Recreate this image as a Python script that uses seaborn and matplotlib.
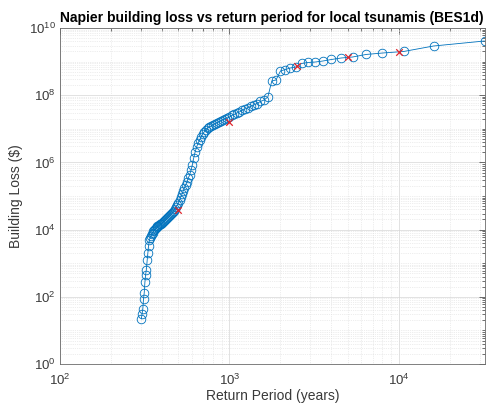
import matplotlib
matplotlib.use("Agg")
import matplotlib.pyplot as plt
from matplotlib.ticker import FixedLocator, LogFormatterSciNotation, NullFormatter
import pandas as pd
import seaborn as sns

# Return period (years) for each ranked loss event
return_period = [
    32000, 16000, 10667, 8000, 6400, 5333, 4571, 4000, 3556, 3200,
    2909, 2667, 2462, 2286, 2133, 2000, 1882, 1778, 1684, 1600,
    1524, 1455, 1391, 1333, 1280, 1231, 1185, 1143, 1103, 1067,
    1032, 1000, 970, 941, 914, 889, 865, 842, 821, 800,
    780, 762, 744, 727, 711, 696, 681, 667, 653, 640,
    627, 615, 604, 593, 582, 571, 561, 552, 542, 533,
    525, 516, 508, 500, 492, 485, 478, 471, 464, 457,
    451, 444, 438, 432, 427, 421, 416, 410, 405, 400,
    395, 390, 386, 381, 376, 372, 368, 364, 360, 356,
    352, 348, 344, 340, 337, 333, 330, 327, 323, 320,
    317, 314, 311, 308, 305, 302,
]

# Building loss ($) for each event
building_loss = [
    4.10e9, 2.91e9, 2.00e9, 1.80e9, 1.63e9, 1.37e9, 1.28e9, 1.155e9, 1.04e9, 9.7e8,
    9.4e8, 8.8e8, 6.9e8, 6.45e8, 5.8e8, 5.25e8, 2.83e8, 2.65e8, 8.8e7, 7.2e7,
    6.5e7, 5.66e7, 5.11e7, 4.61e7, 4.16e7, 3.88e7, 3.51e7, 3.16e7, 2.95e7, 2.67e7,
    2.49e7, 2.24e7, 2.09e7, 1.96e7, 1.83e7, 1.71e7, 1.59e7, 1.49e7, 1.39e7, 1.30e7,
    1.21e7, 1.13e7, 1.06e7, 9.5e6, 8.3e6, 7.0e6, 5.7e6, 4.65e6, 3.78e6, 2.87e6,
    2.04e6, 1.35e6, 8.4e5, 5.9e5, 4.2e5, 3.44e5, 2.61e5, 2.12e5, 1.73e5, 1.41e5,
    1.15e5, 9.3e4, 7.6e4, 6.2e4, 5.4e4, 4.71e4, 4.1e4, 3.7e4, 3.34e4, 3.12e4,
    2.91e4, 2.72e4, 2.54e4, 2.37e4, 2.21e4, 2.07e4, 1.93e4, 1.80e4, 1.68e4, 1.57e4,
    1.47e4, 1.42e4, 1.37e4, 1.28e4, 1.24e4, 1.19e4, 1.12e4, 1.04e4, 9.7e3, 9.1e3,
    7.9e3, 7.4e3, 6.5e3, 5.6e3, 4.9e3, 3.25e3, 2.01e3, 1.24e3, 628, 446,
    275, 130, 86, 43, 31, 22,
]

# Losses at standard return periods
std_period = [500, 1000, 2500, 5000, 10000]
std_loss = [3.8e4, 1.6e7, 7.4e8, 1.38e9, 1.95e9]

events = pd.DataFrame({"period": return_period, "loss": building_loss})
standard = pd.DataFrame({"period": std_period, "loss": std_loss})

sns.set_style("white", {"xtick.direction": "in", "ytick.direction": "in"})
plt.rcParams["font.family"] = ["Liberation Sans", "DejaVu Sans"]

text_grey = "#3a3a3a"
blue = "#0072BD"

fig, ax = plt.subplots(figsize=(4.91, 4.08), dpi=100)
fig.subplots_adjust(left=0.1222, right=0.9868, bottom=0.1078, top=0.9314)

sns.lineplot(
    data=events, x="period", y="loss", ax=ax, estimator=None, sort=False,
    color=blue, linewidth=0.6, marker="o", markersize=6.2,
    markerfacecolor="none", markeredgecolor=blue, markeredgewidth=0.6,
)
sns.scatterplot(
    data=standard, x="period", y="loss", ax=ax, marker="x",
    color="#e0242b", s=22, linewidth=0.9, zorder=5,
)

ax.set_xscale("log")
ax.set_yscale("log")
ax.set_xlim(100, 32000)
ax.set_ylim(1, 1e10)

ax.xaxis.set_major_locator(FixedLocator([1e2, 1e3, 1e4]))
ax.xaxis.set_minor_locator(FixedLocator(
    [m * 10 ** e for e in (2, 3, 4) for m in range(2, 10) if m * 10 ** e < 32000]))
ax.yaxis.set_major_locator(FixedLocator([10.0 ** e for e in range(0, 11, 2)]))
ax.yaxis.set_minor_locator(FixedLocator(
    [m * 10.0 ** e for e in range(0, 10) for m in range(1, 10)
     if not (m == 1 and e % 2 == 0)]))
ax.xaxis.set_major_formatter(LogFormatterSciNotation())
ax.yaxis.set_major_formatter(LogFormatterSciNotation())
ax.xaxis.set_minor_formatter(NullFormatter())
ax.yaxis.set_minor_formatter(NullFormatter())

ax.tick_params(which="both", direction="in", top=True, right=True,
               colors=text_grey, labelsize=9.5, width=0.5)
ax.tick_params(which="major", length=4)
ax.tick_params(which="minor", length=2)
ax.tick_params(axis="x", pad=6)
ax.tick_params(axis="y", pad=3)

ax.grid(which="major", color="#d6d6d6", linewidth=0.5, linestyle="-")
ax.grid(which="minor", color="#dcdcdc", linewidth=0.5, linestyle=":")
ax.set_axisbelow(True)

for sp in ax.spines.values():
    sp.set_color("#6a6a6a")
    sp.set_linewidth(0.6)

ax.set_xlabel("Return Period (years)", fontsize=10, color=text_grey, labelpad=1)
ax.set_ylabel("Building Loss ($)", fontsize=10, color=text_grey, labelpad=4)
ax.set_title("Napier building loss vs return period for local tsunamis (BES1d)",
             fontsize=10, fontweight="bold", color="black", pad=4)

fig.savefig("out.png", dpi=100)
